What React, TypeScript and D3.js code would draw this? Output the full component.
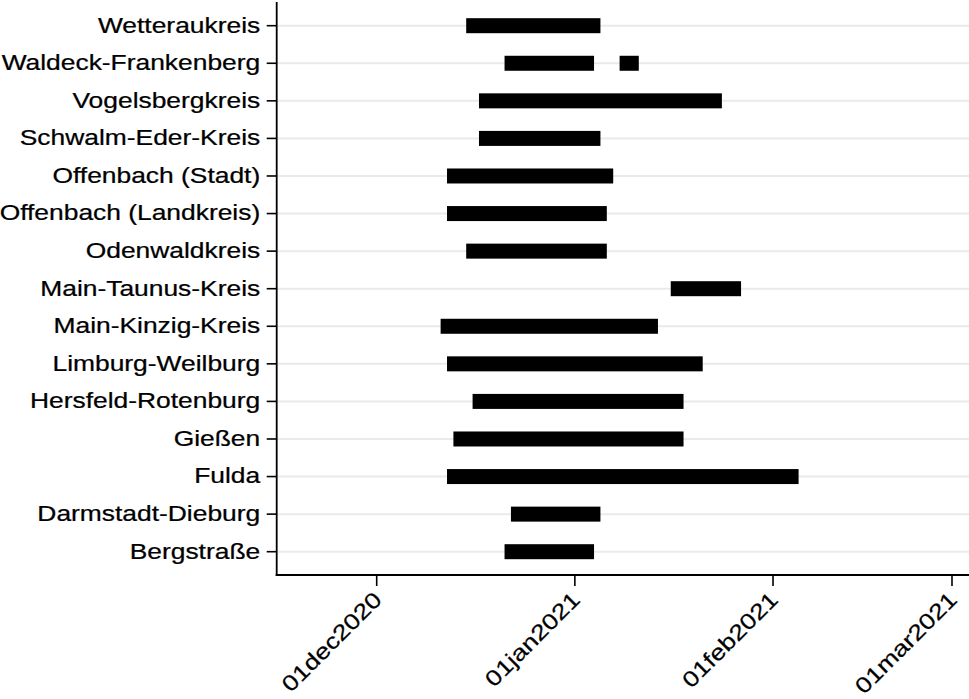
import React from "react";
import * as d3 from "d3";

const districts = [
  "Wetteraukreis",
  "Waldeck-Frankenberg",
  "Vogelsbergkreis",
  "Schwalm-Eder-Kreis",
  "Offenbach (Stadt)",
  "Offenbach (Landkreis)",
  "Odenwaldkreis",
  "Main-Taunus-Kreis",
  "Main-Kinzig-Kreis",
  "Limburg-Weilburg",
  "Hersfeld-Rotenburg",
  "Gießen",
  "Fulda",
  "Darmstadt-Dieburg",
  "Bergstraße",
];

// periods: district, start, end
const periodDistrict = [
  "Wetteraukreis",
  "Waldeck-Frankenberg",
  "Waldeck-Frankenberg",
  "Vogelsbergkreis",
  "Schwalm-Eder-Kreis",
  "Offenbach (Stadt)",
  "Offenbach (Landkreis)",
  "Odenwaldkreis",
  "Main-Taunus-Kreis",
  "Main-Kinzig-Kreis",
  "Limburg-Weilburg",
  "Hersfeld-Rotenburg",
  "Gießen",
  "Fulda",
  "Darmstadt-Dieburg",
  "Bergstraße",
];
const periodStart = [
  "2020-12-15",
  "2020-12-21",
  "2021-01-08",
  "2020-12-17",
  "2020-12-17",
  "2020-12-12",
  "2020-12-12",
  "2020-12-15",
  "2021-01-16",
  "2020-12-11",
  "2020-12-12",
  "2020-12-16",
  "2020-12-13",
  "2020-12-12",
  "2020-12-22",
  "2020-12-21",
];
const periodEnd = [
  "2021-01-05",
  "2021-01-04",
  "2021-01-11",
  "2021-01-24",
  "2021-01-05",
  "2021-01-07",
  "2021-01-06",
  "2021-01-06",
  "2021-01-27",
  "2021-01-14",
  "2021-01-21",
  "2021-01-18",
  "2021-01-18",
  "2021-02-05",
  "2021-01-05",
  "2021-01-04",
];

const tickDates = ["2020-12-01", "2021-01-01", "2021-02-01", "2021-03-01"];
const tickLabels = ["01dec2020", "01jan2021", "01feb2021", "01mar2021"];

const W = 969;
const H = 699;
const plotLeft = 276.7;
const plotRight = 969;
const plotBottom = 575;
const font = "'Liberation Sans', Arial, sans-serif";
const fs = 22;
const stretch = 1.2;

export default function App() {
  const parse = (s: string) => new Date(s + "T00:00:00Z");
  const x = d3
    .scaleUtc()
    .domain([parse("2020-12-01"), parse("2021-03-01")])
    .range([376.7, 952]);
  const y = d3
    .scalePoint<string>()
    .domain(districts)
    .range([25.7, 551.7]);
  const barH = 15;

  return (
    <svg
      width={W}
      height={H}
      style={{ position: "absolute", left: 0, top: 0, background: "#fff" }}
      fontFamily={font}
    >
      {/* grid lines */}
      {districts.map((d) => (
        <line
          key={"g" + d}
          x1={plotLeft}
          x2={plotRight}
          y1={y(d)}
          y2={y(d)}
          stroke="#eaeaea"
          strokeWidth={2}
        />
      ))}
      {/* bars */}
      {periodDistrict.map((d, i) => {
        const x0 = x(parse(periodStart[i]));
        const x1 = x(parse(periodEnd[i]));
        return (
          <rect
            key={"b" + i}
            x={x0}
            y={(y(d) as number) - barH / 2}
            width={x1 - x0}
            height={barH}
            fill="#000"
          />
        );
      })}
      {/* axes */}
      <line x1={plotLeft} x2={plotLeft} y1={2} y2={plotBottom + 1} stroke="#000" strokeWidth={1.8} />
      <line x1={plotLeft - 1} x2={plotRight} y1={plotBottom} y2={plotBottom} stroke="#000" strokeWidth={1.8} />
      {districts.map((d) => (
        <g key={"yl" + d}>
          <line x1={plotLeft - 10} x2={plotLeft} y1={y(d)} y2={y(d)} stroke="#000" strokeWidth={1.6} />
          <text
            transform={`translate(${plotLeft - 16.5},${(y(d) as number) + 6.8}) scale(${stretch},1)`}
            textAnchor="end"
            fontSize={fs}
            fill="#000"
            stroke="#000"
            strokeWidth={0.25}
          >
            {d}
          </text>
        </g>
      ))}
      {tickDates.map((t, i) => {
        const xx = x(parse(t));
        return (
          <g key={"xt" + t}>
            <line x1={xx} x2={xx} y1={plotBottom} y2={plotBottom + 11} stroke="#000" strokeWidth={1.6} />
            <text
              transform={`translate(${xx + 6.4},${plotBottom + 26}) rotate(-45) scale(${stretch},1)`}
              textAnchor="end"
              fontSize={fs}
              fill="#000"
              stroke="#000"
              strokeWidth={0.25}
            >
              {tickLabels[i]}
            </text>
          </g>
        );
      })}
    </svg>
  );
}
